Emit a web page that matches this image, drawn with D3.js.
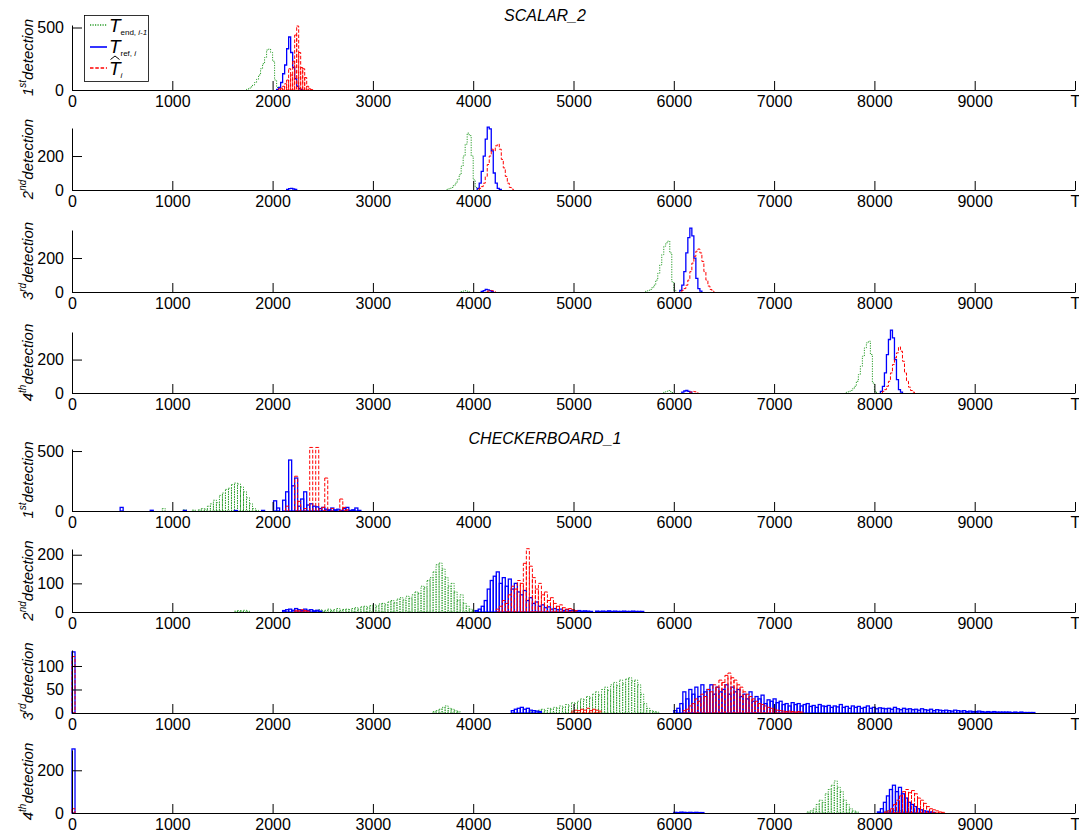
<!DOCTYPE html>
<html>
<head>
<meta charset="utf-8">
<script src="https://cdn.jsdelivr.net/npm/d3@7"></script>
<style>
    body { margin: 0; background: #fff; }
    svg { font-family: "Liberation Sans", Arial, sans-serif; }
</style>
</head>
<body>
<svg id="chart" width="1079" height="835"></svg>
<script>
// --- data ---
const xTicks = [0, 1000, 2000, 3000, 4000, 5000, 6000, 7000, 8000, 9000, 10000];
const xTickLabels = ["0", "1000", "2000", "3000", "4000", "5000", "6000", "7000", "8000", "9000", "T"];
const groupTitles = ["SCALAR_2", "CHECKERBOARD_1"];
const ordinals = ["1", "2", "3", "4"];
const ordinalSuffix = ["st", "nd", "rd", "th"];
const yMaxes = [520, 365, 365, 365, 517, 220, 134, 295];
const yTickValues = [[0, 500], [0, 200], [0, 200], [0, 200], [0, 500], [0, 100, 200], [0, 50, 100], [0, 200]];
const binScalar = 20;
const binChecker = 30;

// each series: list of [binStart, counts]
const sc1End = [[1740, [5, 15, 25, 40, 60, 85, 120, 170, 210, 260, 320, 328, 300, 230, 80, 20, 5]]];
const sc1Ref = [[2040, [5, 20, 60, 130, 200, 330, 424, 300, 180, 90, 30, 10, 2]]];
const sc1Hat = [[2060, [10, 15, 30, 50, 80, 170, 120, 230, 440, 512, 300, 180, 170, 100, 30, 10, 3]]];

const sc2End = [[3740, [5, 10, 15, 25, 40, 60, 90, 140, 200, 270, 335, 320, 200, 60, 15, 5]]];
const sc2Ref = [[2140, [4, 8, 10, 6, 3]], [4040, [10, 40, 110, 200, 300, 370, 360, 230, 100, 40, 10, 3]]];
const sc2Hat = [[4060, [10, 20, 40, 80, 150, 200, 240, 230, 260, 270, 240, 180, 130, 80, 40, 15, 5]]];

const sc3End = [[3880, [3, 6, 8, 4]], [5720, [5, 10, 15, 25, 40, 70, 110, 160, 220, 270, 290, 300, 230, 60, 10]]];
const sc3Ref = [[4080, [3, 8, 15, 12, 8, 4]], [6060, [10, 40, 120, 230, 320, 376, 330, 200, 80, 20, 5]]];
const sc3Hat = [[4140, [5, 10, 8, 4]], [6080, [10, 20, 40, 70, 120, 170, 210, 240, 253, 230, 180, 120, 70, 35, 15, 5]]];

const sc4End = [[5900, [5, 10, 15, 8, 3]], [7720, [5, 10, 15, 25, 40, 70, 110, 160, 220, 270, 300, 310, 230, 60, 10]]];
const sc4Ref = [[6080, [5, 12, 15, 10, 5]], [8060, [10, 40, 120, 230, 320, 376, 330, 200, 80, 20, 5]]];
const sc4Hat = [[6160, [5, 10, 8, 5]], [8080, [10, 20, 40, 70, 120, 170, 210, 240, 276, 250, 190, 120, 70, 35, 15, 5]]];

const cb1End = [[900, [20, 0, 0, 0, 0, 0, 0, 10, 0, 0, 8, 0, 10, 20, 15, 40, 60, 90, 70, 130, 150, 180, 190, 220, 233, 225, 200, 160, 110, 60, 20, 5]]];
const cb1Ref = [[480, [30]], [780, [6]], [1110, [5]], [1620, [4]], [1890, [5]],
    [2010, [85, 25, 0, 90, 160, 425, 210, 275, 40, 100, 160, 50, 60, 40, 35, 20, 30, 15, 10, 25, 10, 15, 5, 20, 30, 5, 10, 25, 5]]];
const cb1Hat = [[2130, [40, 0, 0, 290, 80, 0, 20, 0, 530, 0, 530, 0, 30, 275, 0, 20, 0, 0, 100, 30, 10]]];

const cb2End = [[1620, [3, 5, 4, 6, 3]],
    [2400, [5, 3, 8, 4, 6, 10, 5, 8, 12, 6, 9, 10, 8, 12, 15, 10, 18, 20, 15, 22, 25, 20, 28, 30, 25, 35, 40, 32, 45, 50, 42, 55, 48,
            60, 70, 65, 90, 85, 110, 120, 140, 165, 171, 150, 120, 90, 100, 70, 40, 60, 30, 20, 10, 5]]];
const cb2Ref = [[2100, [5, 8, 10, 6, 12, 8, 5, 10, 6, 8, 4, 6, 3]],
    [4020, [5, 10, 20, 40, 80, 110, 125, 140, 100, 120, 90, 115, 80, 100, 70, 60, 75, 40, 50, 30, 35, 20, 25, 15, 18, 10, 12, 8, 10, 5, 8, 5, 6, 4, 5, 3, 4, 3, 2]],
    [5220, [3, 2, 3, 2, 4, 2, 3, 2, 2, 3, 2, 2, 3, 2, 2, 2]]];
const cb2Hat = [[2220, [6, 4, 8, 5, 3]],
    [4230, [10, 20, 40, 30, 60, 90, 80, 110, 100, 170, 221, 160, 120, 80, 100, 60, 70, 40, 50, 30, 20, 25, 15, 10, 12, 8, 5]]];

const cb3End = [[3600, [3, 5, 8, 12, 15, 10, 8, 5, 3]],
    [4560, [3, 5, 4, 6, 8, 5, 10, 8, 12, 10, 15, 12, 18, 15, 22, 20, 25, 30, 28, 35, 32, 40, 45, 38, 50, 55, 48, 60, 65, 58, 70, 62, 72, 75, 68, 70, 60, 40, 20, 10, 5, 3, 2]]];
const cb3Ref = [[0, [130]], [4380, [5, 8, 10, 12, 8, 10, 6, 5, 4, 3]],
    [6000, [5, 10, 20, 45, 30, 50, 40, 55, 35, 60, 45, 50, 60, 40, 55, 45, 50, 60, 40, 55,
            45, 50, 35, 40, 30, 45, 25, 35, 30, 38, 20, 28, 25, 30, 22, 25, 18, 20, 15, 22,
            18, 20, 15, 18, 20, 14, 16, 12, 18, 15, 14, 16, 12, 15, 13, 18, 12, 14, 10, 15,
            12, 14, 10, 12, 15, 10, 12, 9, 11, 10, 9, 10, 8, 12, 9, 7, 10, 8, 9, 7,
            8, 6, 9, 7, 6, 8, 5, 7, 6, 5, 6, 5, 4, 6, 5, 4, 5, 3, 4, 3,
            3, 4, 3, 2, 3, 2, 3, 2, 2, 2, 2, 2, 1, 2, 1, 2, 1, 1, 1, 1]]];
const cb3Hat = [[0, [120]], [4980, [4, 6, 5, 8, 6, 10, 5, 8, 6, 4]],
    [6090, [5, 8, 15, 20, 30, 25, 40, 35, 50, 45, 60, 55, 70, 65, 80, 85, 75, 70, 60, 55, 45, 40, 35, 30, 25, 20, 18, 15, 12, 10, 8, 6, 5, 4, 3, 4, 3, 2, 3, 2]]];

const cb4End = [[7330, [5, 10, 20, 40, 60, 50, 90, 110, 130, 150, 120, 100, 60, 40, 20, 10, 5]], [8100, [8, 10, 6, 12, 8, 10, 5, 6, 4, 3]]];
const cb4Ref = [[0, [300]], [6000, [3, 2, 4, 3, 2, 3, 2, 3, 2, 2]],
    [8030, [5, 20, 50, 80, 110, 130, 100, 120, 90, 70, 50, 40, 30, 20, 15, 10, 8, 5, 3]]];
const cb4Hat = [[0, [20]], [8100, [5, 10, 20, 40, 60, 80, 100, 110, 95, 105, 90, 70, 60, 45, 30, 20, 15, 10, 5, 3]]];

const panelSeries = [
    [sc1End, sc1Ref, sc1Hat], [sc2End, sc2Ref, sc2Hat], [sc3End, sc3Ref, sc3Hat], [sc4End, sc4Ref, sc4Hat],
    [cb1End, cb1Ref, cb1Hat], [cb2End, cb2Ref, cb2Hat], [cb3End, cb3Ref, cb3Hat], [cb4End, cb4Ref, cb4Hat]
];

// --- layout & styles ---
const panelBase = [90, 190, 292, 393, 511, 612, 713, 813];
const panelTop = [25, 128, 230, 332, 449, 549, 650, 750];
const titleY = [21, 444];

const seriesStyle = [
    { color: "#2a9d2a", width: 1, dash: "1.2,1.3" },
    { color: "#0000ff", width: 1.3, dash: null },
    { color: "#ff0000", width: 1, dash: "3.5,1.8" }
];

const svg = d3.select("#chart");
const x = d3.scaleLinear().domain([0, 10000]).range([72, 1075]);

function styled(sel, st) {
    sel.attr("fill", "none")
        .attr("stroke", st.color)
        .attr("stroke-width", st.width);
    if (st.dash) sel.attr("stroke-dasharray", st.dash);
    return sel;
}

function drawStairs(g, segs, y, bin, st) {
    const line = d3.line().x(d => x(d[0])).y(d => y(d[1]));
    segs.forEach(([start, counts]) => {
        const pts = [[start, 0]];
        counts.forEach((v, i) => {
            pts.push([start + i * bin, v]);
            pts.push([start + (i + 1) * bin, v]);
        });
        pts.push([start + counts.length * bin, 0]);
        styled(g.append("path").attr("d", line(pts)), st);
    });
}

function drawBars(g, segs, y, bin, st) {
    segs.forEach(([start, counts]) => {
        const bars = counts.map((v, i) => ({ x0: start + i * bin, v })).filter(d => d.v > 0);
        styled(g.selectAll(null).data(bars).enter().append("rect")
            .attr("x", d => x(d.x0))
            .attr("y", d => y(d.v))
            .attr("width", d => x(d.x0 + bin) - x(d.x0))
            .attr("height", d => y(0) - y(d.v)), st);
    });
}

panelSeries.forEach((series, p) => {
    const isChecker = p >= 4;
    const bin = isChecker ? binChecker : binScalar;
    const y = d3.scaleLinear().domain([0, yMaxes[p]]).range([panelBase[p], panelTop[p]]);
    const g = svg.append("g");

    series.forEach((segs, s) => {
        const asBars = isChecker || (p === 0 && s === 2);
        if (asBars) drawBars(g, segs, y, bin, seriesStyle[s]);
        else drawStairs(g, segs, y, bin, seriesStyle[s]);
    });

    // x axis
    const xAxis = d3.axisBottom(x)
        .tickValues(xTicks)
        .tickFormat((d, i) => xTickLabels[i])
        .tickSizeInner(-9)
        .tickSizeOuter(0)
        .tickPadding(6);
    const gx = svg.append("g").attr("transform", `translate(0,${panelBase[p]})`).call(xAxis);
    gx.selectAll("text").attr("font-size", 16).attr("font-family", "Liberation Sans, Arial, sans-serif");
    gx.selectAll("line, path").attr("stroke", "#000");

    // y axis
    const yAxis = d3.axisLeft(y)
        .tickValues(yTickValues[p])
        .tickSizeInner(-10)
        .tickSizeOuter(0)
        .tickPadding(8);
    const gy = svg.append("g").attr("transform", `translate(${x(0)},0)`).call(yAxis);
    gy.selectAll("text").attr("font-size", 16).attr("font-family", "Liberation Sans, Arial, sans-serif");
    gy.selectAll("line, path").attr("stroke", "#000");

    // y label: "1st detection"
    const k = p % 4;
    const lab = svg.append("text")
        .attr("transform", `translate(33,${(panelBase[p] + panelTop[p]) / 2}) rotate(-90)`)
        .attr("text-anchor", "middle")
        .attr("font-style", "italic")
        .attr("font-size", 15);
    lab.append("tspan").text(ordinals[k]);
    lab.append("tspan").attr("font-size", 10).attr("dy", -7).text(ordinalSuffix[k]);
    lab.append("tspan").attr("dy", 7).text("detection");
});

// group titles
groupTitles.forEach((t, i) => {
    svg.append("text")
        .attr("x", 545)
        .attr("y", titleY[i])
        .attr("text-anchor", "middle")
        .attr("font-style", "italic")
        .attr("font-size", 16)
        .text(t);
});

// legend
const leg = svg.append("g");
leg.append("rect")
    .attr("x", 84.5).attr("y", 15.5).attr("width", 64).attr("height", 66)
    .attr("fill", "#fff").attr("stroke", "#000").attr("stroke-width", 0.8);

const legendRows = [
    { yLine: 25, yText: 32, sub: ["end, ", "i-1"] },
    { yLine: 47, yText: 53, sub: ["ref, ", "i"] },
    { yLine: 68, yText: 75, sub: ["", "i"] }
];
legendRows.forEach((r, i) => {
    styled(leg.append("line")
        .attr("x1", 90).attr("x2", 107)
        .attr("y1", r.yLine).attr("y2", r.yLine), { ...seriesStyle[i], width: 1.6 });
    leg.append("text")
        .attr("x", 109).attr("y", r.yText)
        .attr("font-size", 19)
        .attr("font-style", "italic")
        .text("T");
    const sub = leg.append("text").attr("x", 120.5).attr("y", r.yText + 3).attr("font-size", 8);
    if (r.sub[0]) sub.append("tspan").text(r.sub[0]);
    sub.append("tspan").attr("font-style", "italic").text(r.sub[1]);
});
// hat over the third T
leg.append("path")
    .attr("d", "M110.5,59.5 L115,56 L119.5,59.5")
    .attr("fill", "none").attr("stroke", "#000").attr("stroke-width", 1);
</script>
</body>
</html>
